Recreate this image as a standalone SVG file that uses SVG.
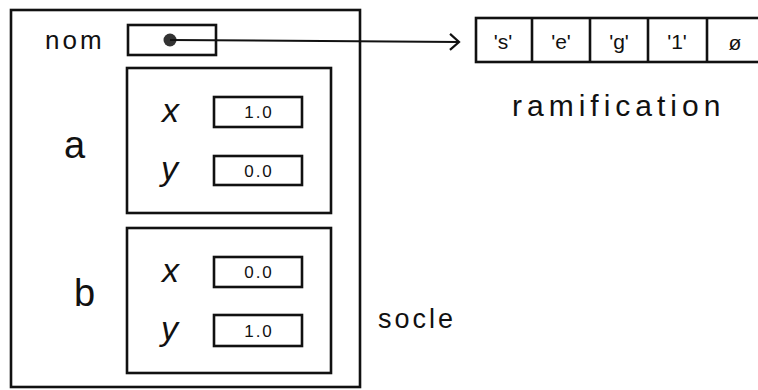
<svg xmlns="http://www.w3.org/2000/svg" width="758" height="390" viewBox="0 0 758 390">
<style>
.box{fill:none;stroke:#111;stroke-width:2.6}
.t{font-family:"Liberation Sans",Arial,sans-serif;fill:#111}
.lbl{font-size:26px;letter-spacing:3px}
.big{font-size:38px}
.var{font-size:34px;font-style:italic}
.val{font-size:17px;text-anchor:middle;letter-spacing:2px}
.cell{font-size:21px;text-anchor:middle}
</style>
<defs>
<marker id="arr" markerWidth="12" markerHeight="18" refX="10" refY="9" orient="auto" markerUnits="userSpaceOnUse">
<path d="M1,1 L10,9 L1,17" fill="none" stroke="#111" stroke-width="2.2"/>
</marker>
</defs>
<rect width="758" height="390" fill="#fff"/>
<g id="socle">
<rect class="box" x="11" y="10" width="349" height="377"/>
<text class="t" x="378" y="328" font-size="27" letter-spacing="3">socle</text>
</g>
<g id="nom">
<text class="t lbl" x="45" y="49">nom</text>
<rect class="box" x="128" y="25" width="88" height="30"/>
<circle cx="170" cy="40" r="6.5" fill="#333"/>
</g>
<g id="a">
<text class="t big" x="64" y="158">a</text>
<rect class="box" x="127" y="68" width="204" height="145"/>
<text class="t var" x="162" y="122">x</text>
<rect class="box" x="214" y="97" width="88" height="30"/>
<text class="t val" x="259" y="118">1.0</text>
<text class="t var" x="161" y="180">y</text>
<rect class="box" x="214" y="156" width="88" height="29"/>
<text class="t val" x="259" y="177">0.0</text>
</g>
<g id="b">
<text class="t big" x="74" y="306">b</text>
<rect class="box" x="127" y="228" width="204" height="145"/>
<text class="t var" x="162" y="282">x</text>
<rect class="box" x="214" y="257" width="88" height="30"/>
<text class="t val" x="259" y="278">0.0</text>
<text class="t var" x="161" y="340">y</text>
<rect class="box" x="214" y="315" width="88" height="31"/>
<text class="t val" x="259" y="337">1.0</text>
</g>
<g id="ramification">
<rect class="box" x="476" y="18" width="290" height="44"/>
<line class="box" x1="532" y1="18" x2="532" y2="62"/>
<line class="box" x1="590" y1="18" x2="590" y2="62"/>
<line class="box" x1="648" y1="18" x2="648" y2="62"/>
<line class="box" x1="707" y1="18" x2="707" y2="62"/>
<text class="t cell" x="503" y="49">'s'</text>
<text class="t cell" x="561" y="49">'e'</text>
<text class="t cell" x="619" y="49">'g'</text>
<text class="t cell" x="677" y="49">'1'</text>
<text class="t cell" x="735" y="50" font-size="26">ø</text>
<text class="t" x="512" y="116" font-size="30" letter-spacing="5">ramification</text>
</g>
<g id="connectors">
<line x1="170" y1="40" x2="459" y2="42" stroke="#111" stroke-width="2" marker-end="url(#arr)"/>
</g>
</svg>
